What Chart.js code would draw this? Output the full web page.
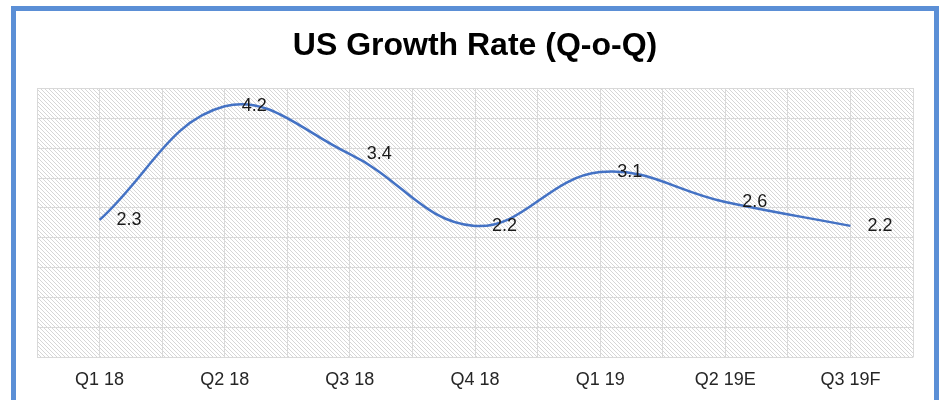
<!DOCTYPE html>
<html>
<head>
<meta charset="utf-8">
<script src="https://cdn.jsdelivr.net/npm/chart.js@4/dist/chart.umd.min.js"></script>
<style>
  html, body { margin: 0; padding: 0; background: #fff; overflow: hidden; }
  #wrap { position: relative; width: 942px; height: 400px; }
  #frame { position: absolute; left: 11px; top: 6px; width: 918px; height: 420px;
           border: 5px solid #5b8fd6; pointer-events: none; }
  canvas { position: absolute; left: 0; top: 0; }
</style>
</head>
<body>
<div id="wrap">
  <canvas id="canvas" width="942" height="400"></canvas>
  <div id="frame"></div>
</div>
<script>
var quarters = ['Q1 18', 'Q2 18', 'Q3 18', 'Q4 18', 'Q1 19', 'Q2 19E', 'Q3 19F'];
var growthRate = [2.3, 4.2, 3.4, 2.2, 3.1, 2.6, 2.2];
var titleText = 'US Growth Rate (Q-o-Q)';

// hatch pattern for plot background
function hatch() {
	var c = document.createElement('canvas');
	c.width = 4; c.height = 4;
	var g = c.getContext('2d');
	g.fillStyle = '#ffffff';
	g.fillRect(0, 0, 4, 4);
	g.strokeStyle = '#d6d6d6';
	g.lineWidth = 1;
	g.beginPath();
	g.moveTo(-1, -1); g.lineTo(5, 5);
	g.moveTo(-1, 3); g.lineTo(1, 5);
	g.moveTo(3, -1); g.lineTo(5, 1);
	g.stroke();
	return g.createPattern(c, 'repeat');
}

var plotBg = {
	id: 'plotBg',
	beforeDraw: function(chart) {
		var a = chart.chartArea, ctx = chart.ctx;
		ctx.save();
		ctx.fillStyle = hatch();
		ctx.fillRect(a.left, a.top, a.right - a.left, a.bottom - a.top);
		ctx.restore();
	}
};

var valueLabels = {
	id: 'valueLabels',
	afterDatasetsDraw: function(chart) {
		var ctx = chart.ctx;
		var meta = chart.getDatasetMeta(0);
		ctx.save();
		ctx.font = '18px "Liberation Sans", Arial, sans-serif';
		ctx.fillStyle = '#1a1a1a';
		ctx.textAlign = 'left';
		ctx.textBaseline = 'middle';
		meta.data.forEach(function(pt, i) {
			ctx.fillText(growthRate[i].toFixed(1), pt.x + 17, pt.y);
		});
		ctx.restore();
	}
};

var ctx = document.getElementById('canvas');
new Chart(ctx, {
	type: 'line',
	data: {
		labels: quarters,
		datasets: [{
			data: growthRate,
			borderColor: '#4472c4',
			borderWidth: 2.5,
			tension: 0.4,
			pointRadius: 0,
			fill: false
		}]
	},
	options: {
		responsive: false,
		animation: false,
		layout: { padding: { left: 37, right: 29, top: 0, bottom: -3 } },
		plugins: {
			legend: { display: false },
			tooltip: { enabled: false },
			title: {
				display: true,
				text: titleText,
				color: '#000',
				font: { family: '"Liberation Sans", Arial, sans-serif', size: 32, weight: 'bold' },
				padding: { top: 27, bottom: 23 }
			}
		},
		scales: {
			x: {
				offset: true,
				grid: { display: false, drawTicks: false },
				border: { display: false },
				ticks: {
					color: '#262626',
					padding: 12,
					font: { family: '"Liberation Sans", Arial, sans-serif', size: 18 }
				}
			},
			x2: {
				type: 'linear',
				position: 'top',
				min: 0,
				max: 7,
				grid: { color: '#d9d9d9', lineWidth: 1, drawTicks: false },
				border: { display: false },
				ticks: { display: false, stepSize: 0.5 }
			},
			y: {
				min: 0,
				max: 4.5,
				grid: { color: '#d9d9d9', lineWidth: 1, drawTicks: false },
				border: { display: false },
				ticks: { display: false, stepSize: 0.5 }
			}
		}
	},
	plugins: [plotBg, valueLabels]
});
</script>
</body>
</html>
